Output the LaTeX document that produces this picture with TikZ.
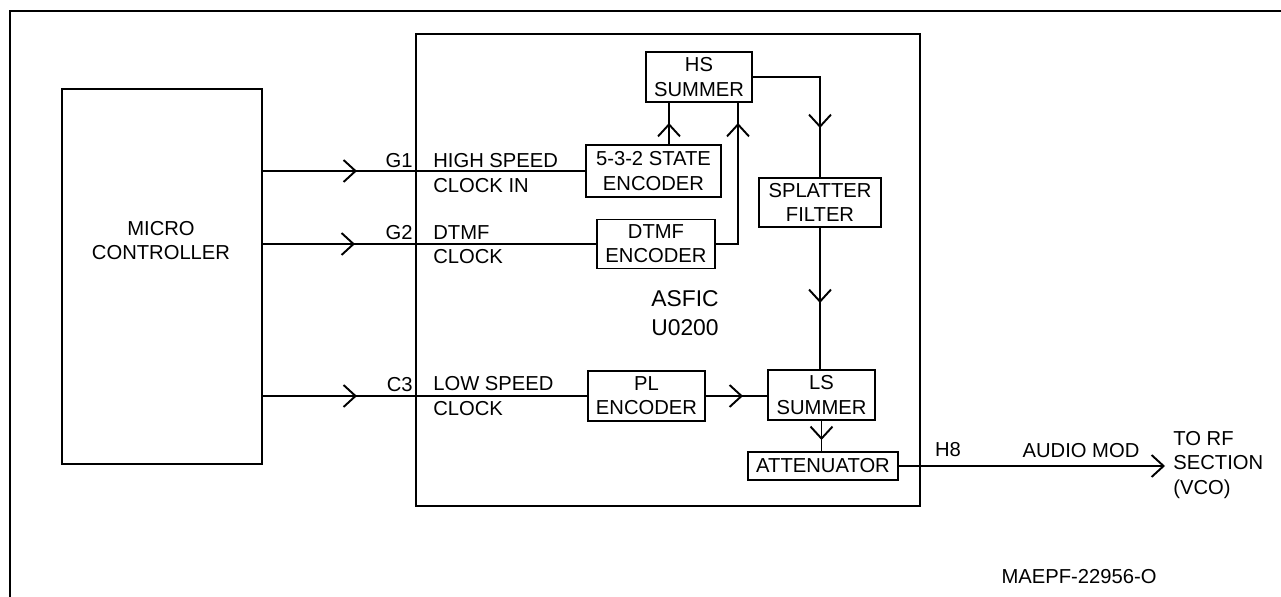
\documentclass[tikz,border=0pt]{standalone}
\usepackage{fontspec}
\setmainfont{Liberation Sans}
\usetikzlibrary{arrows.meta, decorations.markings, calc}
\newcommand{\lbfont}{\fontsize{11.5}{13.8}\selectfont}
\newcommand{\asficfont}{\fontsize{13}{16.5}\selectfont}
\tikzset{
    % Block styles
    bigbox/.style={
        rectangle,
        draw=black,
        line width=1.4pt,
        outer sep=0pt,
        inner sep=0pt
    },
    blockbox/.style={
        rectangle,
        draw=black,
        line width=1.1pt,
        outer sep=0pt,
        inner sep=0pt,
        align=center,
        font=\lbfont
    },
    sigtext/.style={
        inner sep=0pt,
        font=\lbfont
    },
    % Arrow styles
    sigline/.style={
        line width=1.1pt
    },
    midarrow/.style={
        postaction={decorate},
        decoration={markings,
            mark=at position #1 with {\arrow{Straight Barb[length=2.4mm,width=4.4mm]}}}
    },
    endarrow/.style={
        -{Straight Barb[length=2.4mm,width=4.4mm]}
    }
}
\begin{document}
\begin{tikzpicture}[x=0.02cm, y=-0.02cm]
    \useasboundingbox (0,0) rectangle (1281,597);

    % Frame
    \draw[line width=0.8pt] (10,597) -- (10,11) -- (1281,11);

    % Micro controller
    \node[bigbox, minimum width=4cm, minimum height=7.5cm] (mcu) at (162,276.5) {};
    \node[sigtext, align=center] (mculbl) at (161,240.5) {MICRO\\CONTROLLER};

    % ASFIC
    \node[bigbox, minimum width=10.08cm, minimum height=9.44cm] (asfic) at (668,270) {};
    \node[sigtext, align=center, font=\asficfont] (asficlbl) at (685,313) {ASFIC\\U0200};

    % Blocks inside the ASFIC
    \node[blockbox, minimum width=2.12cm, minimum height=1cm] (hs) at (699,77) {HS\\SUMMER};
    \node[blockbox, minimum width=2.7cm, minimum height=1.04cm] (stateenc) at (653.5,171) {5-3-2 STATE\\ENCODER};
    \node[blockbox, minimum width=2.36cm, minimum height=0.98cm] (dtmfenc) at (656,244) {DTMF\\ENCODER};
    \node[blockbox, minimum width=2.44cm, minimum height=0.98cm] (splatter) at (820,202.5) {SPLATTER\\FILTER};
    \node[blockbox, minimum width=2.34cm, minimum height=1cm] (plenc) at (646.5,396) {PL\\ENCODER};
    \node[blockbox, minimum width=2.14cm, minimum height=1cm] (lssum) at (821.5,395) {LS\\SUMMER};
    \node[blockbox, minimum width=3cm, minimum height=0.56cm] (atten) at (823,466) {ATTENUATOR};

    \coordinate (hsin1) at (669,102);
    \coordinate (hsin2) at (738,102);
    \coordinate (torf) at (1165,466);

    % Pin labels
    \node[sigtext, anchor=base east] (g1) at (413,168) {G1};
    \node[sigtext, anchor=west, align=left] (hsclk) at (433,173) {HIGH SPEED\\CLOCK IN};
    \node[sigtext, anchor=base east] (g2) at (413,240) {G2};
    \node[sigtext, anchor=west, align=left] (dtmfclk) at (433,245) {DTMF\\CLOCK};
    \node[sigtext, anchor=base east] (c3) at (413,392) {C3};
    \node[sigtext, anchor=west, align=left] (lsclk) at (433,396) {LOW SPEED\\CLOCK};
    \node[sigtext, anchor=base] (h8) at (948,457) {H8};
    \node[sigtext, anchor=base] (audiomod) at (1081,458) {AUDIO MOD};
    \node[sigtext, anchor=west, align=left] (torflbl) at (1173,465) {TO RF\\SECTION\\(VCO)};
    \node[sigtext, anchor=base] (figid) at (1079,583) {MAEPF-22956-O};

    % Clock lines
    \draw[sigline, midarrow=1.9cm] (mcu.east |- stateenc.west) -- (stateenc.west);
    \draw[sigline, midarrow=1.86cm] (mcu.east |- dtmfenc.west) -- (dtmfenc.west);
    \draw[sigline, midarrow=1.9cm] (mcu.east |- plenc.west) -- (plenc.west);

    % Signal path
    \draw[sigline, midarrow=-0.42cm] (stateenc.north -| hsin1) -- (hsin1);
    \draw[sigline, midarrow=-0.42cm] (dtmfenc.east) -| (hsin2);
    \draw[sigline, midarrow=-1cm] (hs.east) -| (splatter.north);
    \draw[sigline, midarrow=1.52cm] (splatter.south) -- (splatter.south |- lssum.north);
    \draw[sigline, midarrow=0.76cm] (plenc.east) -- (plenc.east -| lssum.west);
    \draw[sigline, midarrow=0.4cm] (lssum.south) -- (lssum.south |- atten.north);
    \draw[sigline, endarrow] (atten.east) -- (torf);
\end{tikzpicture}
\end{document}
